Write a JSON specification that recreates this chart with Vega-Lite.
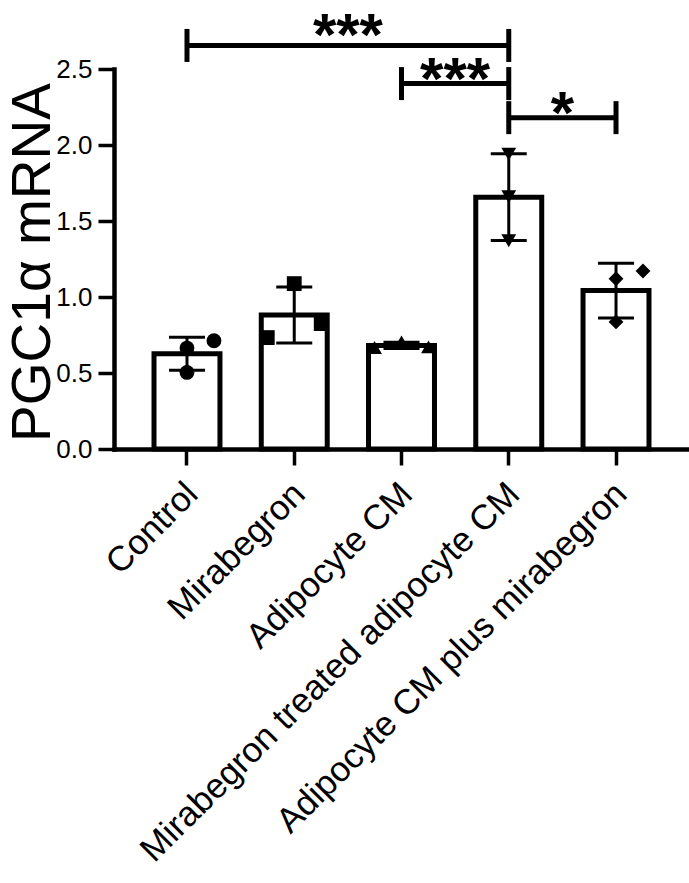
{
  "$schema": "https://vega.github.io/schema/vega-lite/v6.json",
  "width": 575,
  "height": 380,
  "autosize": {"type": "none"},
  "padding": {"left": 114, "top": 69, "right": 0, "bottom": 434},
  "background": "white",
  "config": {
    "view": {"stroke": null},
    "font": "Liberation Sans",
    "axis": {
      "domainColor": "black",
      "domainWidth": 4.5,
      "domainCap": "square",
      "tickColor": "black",
      "tickWidth": 3.5,
      "tickSize": 16,
      "labelColor": "black",
      "labelFont": "Liberation Sans",
      "titleColor": "black",
      "titleFont": "Liberation Sans",
      "grid": false
    }
  },
  "datasets": {
    "points": [
      {"group": "Control", "value": 0.664, "lane": "center"},
      {"group": "Control", "value": 0.504, "lane": "center"},
      {"group": "Control", "value": 0.712, "lane": "right"},
      {"group": "Mirabegron", "value": 1.088, "lane": "center"},
      {"group": "Mirabegron", "value": 0.733, "lane": "left"},
      {"group": "Mirabegron", "value": 0.825, "lane": "right"},
      {"group": "Adipocyte CM", "value": 0.668, "lane": "left"},
      {"group": "Adipocyte CM", "value": 0.705, "lane": "center"},
      {"group": "Adipocyte CM", "value": 0.672, "lane": "right"},
      {"group": "Mirabegron treated adipocyte CM", "value": 1.94, "lane": "center"},
      {"group": "Mirabegron treated adipocyte CM", "value": 1.66, "lane": "center"},
      {"group": "Mirabegron treated adipocyte CM", "value": 1.37, "lane": "center"},
      {"group": "Adipocyte CM plus mirabegron", "value": 1.171, "lane": "right"},
      {"group": "Adipocyte CM plus mirabegron", "value": 1.12, "lane": "center"},
      {"group": "Adipocyte CM plus mirabegron", "value": 0.836, "lane": "center"}
    ],
    "brackets": [
      {"from": "Control", "to": "Mirabegron treated adipocyte CM", "level": 2.655, "label": "***", "label_y": 2.815},
      {"from": "Adipocyte CM", "to": "Mirabegron treated adipocyte CM", "level": 2.404, "label": "***", "label_y": 2.524},
      {"from": "Mirabegron treated adipocyte CM", "to": "Adipocyte CM plus mirabegron", "level": 2.18, "label": "*", "label_y": 2.3}
    ]
  },
  "layer": [
    {
      "data": {"name": "points"},
      "mark": {"type": "bar", "fill": "white", "stroke": "black", "strokeWidth": 5},
      "encoding": {
        "x": {
          "field": "group", "type": "nominal", "title": null, "sort": null,
          "scale": {"domain": ["Control", "Mirabegron", "Adipocyte CM", "Mirabegron treated adipocyte CM", "Adipocyte CM plus mirabegron"], "paddingInner": 0.385, "paddingOuter": 0.373},
          "axis": {"labelAngle": -45, "labelFontSize": 35, "labelAlign": "right", "labelBaseline": "top", "labelOffset": -7, "labelPadding": 11, "labelLimit": 1000, "title": null}
        },
        "y": {
          "aggregate": "mean", "field": "value", "type": "quantitative", "title": "PGC1α mRNA",
          "scale": {"domain": [0, 2.5], "nice": false, "zero": true},
          "axis": {"values": [0, 0.5, 1, 1.5, 2, 2.5], "format": ".1f", "labelFontSize": 26, "labelPadding": 6, "title": "PGC1α mRNA", "titleFontSize": 55, "titleFontWeight": "normal", "titleX": -65, "titleY": 193, "titleAngle": -90, "titleBaseline": "alphabetic", "titleAlign": "center"}
        }
      }
    },
    {
      "data": {"name": "points"},
      "mark": {"type": "errorbar", "extent": "stdev", "ticks": {"opacity": 1, "color": "black"}, "rule": {"opacity": 1, "color": "black"}, "size": 36, "thickness": 3, "color": "black", "opacity": 1},
      "encoding": {
        "x": {"field": "group", "type": "nominal", "title": null, "sort": null},
        "y": {"field": "value", "type": "quantitative", "title": "PGC1α mRNA"}
      }
    },
    {
      "data": {"name": "points"},
      "transform": [{"filter": "datum.lane === 'center'"}],
      "mark": {"type": "point", "filled": true, "opacity": 1, "size": 220, "color": "black", "strokeWidth": 0},
      "encoding": {
        "x": {"field": "group", "type": "nominal", "title": null, "sort": null, "bandPosition": 0.5},
        "y": {"field": "value", "type": "quantitative", "title": "PGC1α mRNA"},
        "shape": {
          "field": "group", "type": "nominal", "legend": null,
          "scale": {"domain": ["Control", "Mirabegron", "Adipocyte CM", "Mirabegron treated adipocyte CM", "Adipocyte CM plus mirabegron"], "range": ["circle", "square", "triangle-up", "triangle-down", "diamond"]}
        }
      }
    },
    {
      "data": {"name": "points"},
      "transform": [{"filter": "datum.lane === 'left'"}],
      "mark": {"type": "point", "filled": true, "opacity": 1, "size": 220, "color": "black", "strokeWidth": 0},
      "encoding": {
        "x": {"field": "group", "type": "nominal", "title": null, "sort": null, "bandPosition": 0.091},
        "y": {"field": "value", "type": "quantitative", "title": "PGC1α mRNA"},
        "shape": {"field": "group", "type": "nominal", "legend": null}
      }
    },
    {
      "data": {"name": "points"},
      "transform": [{"filter": "datum.lane === 'right'"}],
      "mark": {"type": "point", "filled": true, "opacity": 1, "size": 220, "color": "black", "strokeWidth": 0},
      "encoding": {
        "x": {"field": "group", "type": "nominal", "title": null, "sort": null, "bandPosition": 0.909},
        "y": {"field": "value", "type": "quantitative", "title": "PGC1α mRNA"},
        "shape": {"field": "group", "type": "nominal", "legend": null}
      }
    },
    {
      "data": {"name": "brackets"},
      "mark": {"type": "rule", "color": "black", "strokeWidth": 5},
      "encoding": {
        "x": {"field": "from", "type": "nominal", "title": null, "sort": null},
        "x2": {"field": "to"},
        "y": {"field": "level", "type": "quantitative", "title": "PGC1α mRNA"}
      }
    },
    {
      "data": {"name": "brackets"},
      "mark": {"type": "tick", "orient": "vertical", "color": "black", "size": 33, "thickness": 5, "opacity": 1},
      "encoding": {
        "x": {"field": "from", "type": "nominal", "title": null, "sort": null},
        "y": {"field": "level", "type": "quantitative", "title": "PGC1α mRNA"}
      }
    },
    {
      "data": {"name": "brackets"},
      "mark": {"type": "tick", "orient": "vertical", "color": "black", "size": 33, "thickness": 5, "opacity": 1},
      "encoding": {
        "x": {"field": "to", "type": "nominal", "title": null, "sort": null},
        "y": {"field": "level", "type": "quantitative", "title": "PGC1α mRNA"}
      }
    },
    {
      "data": {"name": "brackets"},
      "transform": [{"filter": "datum.from === 'Control'"}],
      "mark": {"type": "text", "color": "black", "font": "Liberation Sans", "fontSize": 60, "fontWeight": "bold", "baseline": "middle", "align": "center", "dy": 16},
      "encoding": {
        "x": {"field": "from", "type": "nominal", "title": null, "sort": null, "bandPosition": 2.94},
        "y": {"field": "label_y", "type": "quantitative", "title": "PGC1α mRNA"},
        "text": {"field": "label"}
      }
    },
    {
      "data": {"name": "brackets"},
      "transform": [{"filter": "datum.from !== 'Control'"}],
      "mark": {"type": "text", "color": "black", "font": "Liberation Sans", "fontSize": 60, "fontWeight": "bold", "baseline": "middle", "align": "center", "dy": 16},
      "encoding": {
        "x": {"field": "from", "type": "nominal", "title": null, "sort": null, "bandPosition": 1.313},
        "y": {"field": "label_y", "type": "quantitative", "title": "PGC1α mRNA"},
        "text": {"field": "label"}
      }
    }
  ]
}
